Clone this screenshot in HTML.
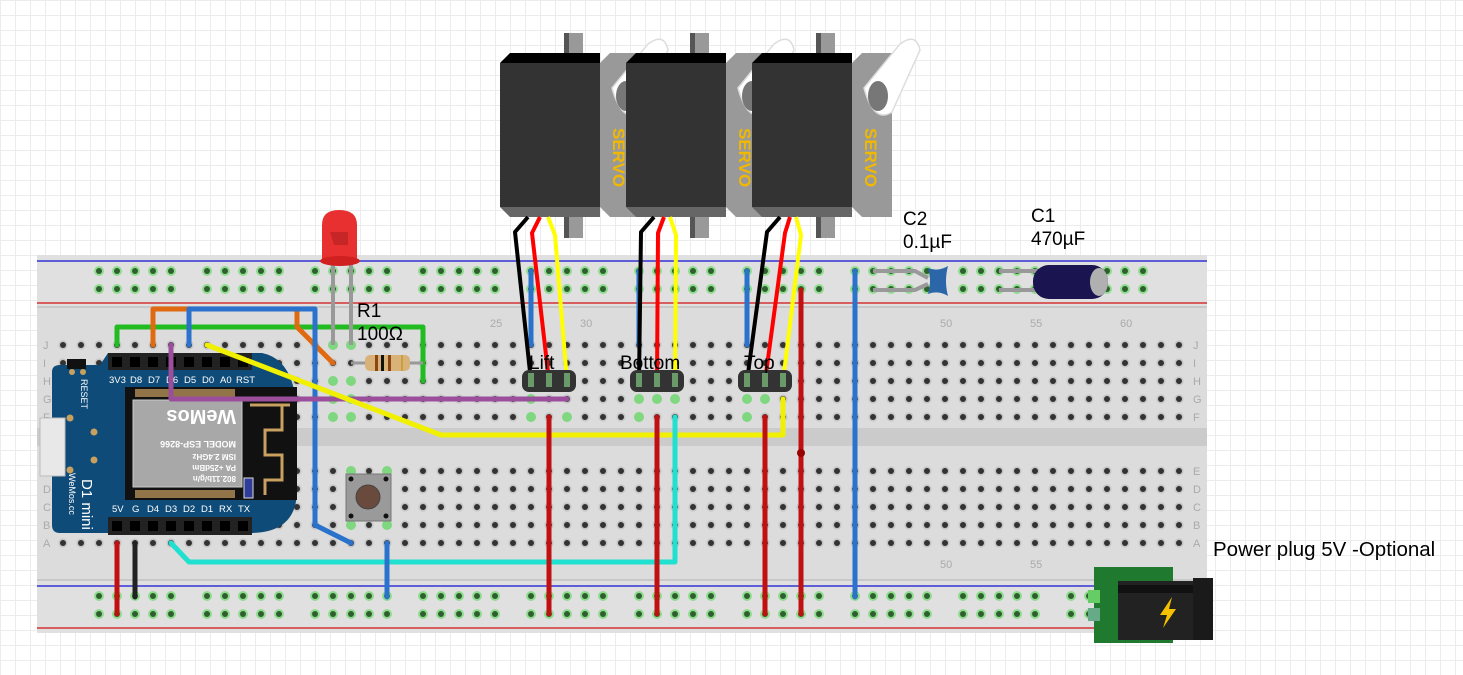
<!DOCTYPE html>
<html><head><meta charset="utf-8"><style>
html,body{margin:0;padding:0;width:1463px;height:675px;overflow:hidden;background:#fff;}
body{background-image:linear-gradient(#ececec 1px,transparent 1px),linear-gradient(90deg,#ececec 1px,transparent 1px);background-size:15px 15px;}
svg{position:absolute;left:0;top:0;font-family:"Liberation Sans",sans-serif;}
</style></head><body>
<svg width="1463" height="675" viewBox="0 0 1463 675">
<defs>
<pattern id="mh" x="54" y="336" width="18" height="18" patternUnits="userSpaceOnUse">
<circle cx="9" cy="9" r="4.6" fill="#c6c6c6"/><circle cx="9" cy="9" r="3" fill="#333"/>
</pattern>
<pattern id="rh" x="90" y="262" width="108" height="18" patternUnits="userSpaceOnUse">
<g fill="#8fdc8f"><circle cx="9" cy="9" r="5"/><circle cx="27" cy="9" r="5"/><circle cx="45" cy="9" r="5"/><circle cx="63" cy="9" r="5"/><circle cx="81" cy="9" r="5"/></g>
<g fill="#2f5f2f"><circle cx="9" cy="9" r="3"/><circle cx="27" cy="9" r="3"/><circle cx="45" cy="9" r="3"/><circle cx="63" cy="9" r="3"/><circle cx="81" cy="9" r="3"/></g>
</pattern>
<pattern id="rh2" x="90" y="587" width="108" height="18" patternUnits="userSpaceOnUse">
<g fill="#8fdc8f"><circle cx="9" cy="9" r="5"/><circle cx="27" cy="9" r="5"/><circle cx="45" cy="9" r="5"/><circle cx="63" cy="9" r="5"/><circle cx="81" cy="9" r="5"/></g>
<g fill="#2f5f2f"><circle cx="9" cy="9" r="3"/><circle cx="27" cy="9" r="3"/><circle cx="45" cy="9" r="3"/><circle cx="63" cy="9" r="3"/><circle cx="81" cy="9" r="3"/></g>
</pattern>
<g id="servo">
<rect x="564" y="33" width="19" height="205" fill="#999"/>
<rect x="564" y="33" width="5" height="205" fill="#555"/>
<polygon points="500,63 510,53 600,53 600,63" fill="#000"/>
<rect x="500" y="63" width="100" height="144" fill="#333"/>
<polygon points="500,207 600,207 600,217 510,217" fill="#666"/>
<polygon points="600,63 610,53 640,53 640,217 610,217 600,207" fill="#999"/>
<path d="M612 88 L648 44 Q664 32 668 50 L640 112 Q622 124 612 88 Z" fill="#fff" stroke="#ddd" stroke-width="1.5"/>
<ellipse cx="626" cy="96" rx="10" ry="15" fill="#777"/>
<text x="0" y="0" fill="#f0b800" font-size="17" font-weight="bold" transform="translate(613 128) rotate(90)">SERVO</text>
</g>
</defs>

<!-- breadboard -->
<rect x="37" y="255" width="1170" height="378" fill="#dcdcdc"/>
<rect x="37" y="255" width="1170" height="52" fill="#e0e0e0"/>
<rect x="37" y="579" width="1170" height="54" fill="#e0e0e0"/>
<line x1="37" y1="307" x2="1207" y2="307" stroke="#c8c8c8" stroke-width="2"/>
<line x1="37" y1="580" x2="1207" y2="580" stroke="#c8c8c8" stroke-width="2"/>
<rect x="37" y="428" width="1170" height="18" fill="#cbcbcb"/>
<line x1="37" y1="261" x2="1207" y2="261" stroke="#1010d0" stroke-width="1.3"/>
<line x1="37" y1="303" x2="1207" y2="303" stroke="#d01010" stroke-width="1.3"/>
<line x1="37" y1="586" x2="1207" y2="586" stroke="#1010d0" stroke-width="1.3"/>
<line x1="37" y1="628" x2="1207" y2="628" stroke="#d01010" stroke-width="1.3"/>
<rect x="54" y="336" width="1134" height="90" fill="url(#mh)"/>
<rect x="54" y="462" width="1134" height="90" fill="url(#mh)"/>
<rect x="90" y="262" width="1062" height="36" fill="url(#rh)"/>
<rect x="90" y="587" width="1062" height="36" fill="url(#rh2)"/>
<g fill="#aaa" font-size="11">
<text x="43" y="349">J</text><text x="43" y="367">I</text><text x="43" y="385">H</text><text x="43" y="403">G</text><text x="43" y="421">F</text>
<text x="43" y="475">E</text><text x="43" y="493">D</text><text x="43" y="511">C</text><text x="43" y="529">B</text><text x="43" y="547">A</text>
<text x="1193" y="349">J</text><text x="1193" y="367">I</text><text x="1193" y="385">H</text><text x="1193" y="403">G</text><text x="1193" y="421">F</text>
<text x="1193" y="475">E</text><text x="1193" y="493">D</text><text x="1193" y="511">C</text><text x="1193" y="529">B</text><text x="1193" y="547">A</text>
<text x="490" y="327">25</text><text x="580" y="327">30</text><text x="940" y="327">50</text><text x="1030" y="327">55</text><text x="1120" y="327">60</text>
<text x="940" y="568">50</text><text x="1030" y="568">55</text>
</g>

<!-- green highlighted holes -->
<g fill="#7fd77f">
<circle cx="333" cy="345" r="5"/><circle cx="351" cy="345" r="5"/><circle cx="333" cy="381" r="5"/><circle cx="351" cy="381" r="5"/><circle cx="333" cy="399" r="5"/><circle cx="351" cy="399" r="5"/><circle cx="333" cy="417" r="5"/><circle cx="351" cy="417" r="5"/>
<circle cx="531" cy="399" r="5"/><circle cx="531" cy="417" r="5"/><circle cx="567" cy="417" r="5"/>
<circle cx="639" cy="399" r="5"/><circle cx="657" cy="399" r="5"/><circle cx="675" cy="399" r="5"/><circle cx="639" cy="417" r="5"/>
<circle cx="747" cy="399" r="5"/><circle cx="765" cy="399" r="5"/><circle cx="747" cy="417" r="5"/>
<circle cx="351" cy="471" r="5"/><circle cx="387" cy="471" r="5"/><circle cx="351" cy="525" r="5"/><circle cx="387" cy="525" r="5"/>
</g>

<!-- Wemos D1 mini -->
<path d="M52 372 Q52 365 60 365 L100 365 L108 353 L262 353 Q297 360 297 420 L297 490 Q297 533 250 533 L60 533 Q52 533 52 525 Z" fill="#0e4b78"/>
<rect x="40" y="418" width="25" height="58" fill="#e8e8e8" stroke="#bbb"/>
<rect x="67" y="359" width="19" height="10" fill="#111"/>
<rect x="125" y="387" width="172" height="113" fill="#111"/>
<rect x="133" y="400" width="109" height="87" fill="#a8a8a8" stroke="#ccc"/>
<g stroke="#c8a060" stroke-width="3" fill="none"><path d="M250 405 H290 M282 405 V430 H265 V455 H282 V480 H265 V495"/></g>
<rect x="244" y="478" width="9" height="20" fill="#2f3c9a" stroke="#ddd"/>
<g fill="#c8a060"><rect x="135" y="389" width="100" height="8" opacity=".7"/><rect x="135" y="490" width="100" height="8" opacity=".7"/></g>
<g fill="#fff" font-weight="bold" transform="rotate(180 188 444)">
<text x="140" y="412" font-size="8">802.11b/g/n</text><text x="140" y="423" font-size="8">PA +25dBm</text><text x="140" y="434" font-size="8">ISM 2.4GHz</text><text x="140" y="447" font-size="9">MODEL ESP-8266</text><text x="140" y="478" font-size="20">WeMos</text></g>
<g fill="#fff" font-size="9.5">
<text x="109" y="383">3V3</text><text x="130" y="383">D8</text><text x="148" y="383">D7</text><text x="166" y="383">D6</text><text x="184" y="383">D5</text><text x="202" y="383">D0</text><text x="220" y="383">A0</text><text x="236" y="383">RST</text>
<text x="112" y="512">5V</text><text x="132" y="512">G</text><text x="147" y="512">D4</text><text x="165" y="512">D3</text><text x="183" y="512">D2</text><text x="201" y="512">D1</text><text x="219" y="512">RX</text><text x="238" y="512">TX</text></g>
<rect x="108" y="353" width="144" height="17" fill="#222"/>
<rect x="108" y="517" width="144" height="18" fill="#222"/>
<g fill="#000"><rect x="112" y="357" width="10" height="10"/><rect x="130" y="357" width="10" height="10"/><rect x="148" y="357" width="10" height="10"/><rect x="166" y="357" width="10" height="10"/><rect x="184" y="357" width="10" height="10"/><rect x="202" y="357" width="10" height="10"/><rect x="220" y="357" width="10" height="10"/><rect x="238" y="357" width="10" height="10"/>
<rect x="112" y="521" width="10" height="10"/><rect x="130" y="521" width="10" height="10"/><rect x="148" y="521" width="10" height="10"/><rect x="166" y="521" width="10" height="10"/><rect x="184" y="521" width="10" height="10"/><rect x="202" y="521" width="10" height="10"/><rect x="220" y="521" width="10" height="10"/><rect x="238" y="521" width="10" height="10"/></g>
<g fill="#c8a060"><circle cx="72" cy="372" r="3"/><circle cx="83" cy="372" r="3"/><circle cx="70" cy="418" r="3.5"/><circle cx="94" cy="432" r="3.5"/><circle cx="94" cy="460" r="3.5"/><circle cx="70" cy="470" r="3.5"/></g>
<text x="0" y="0" fill="#fff" font-size="9" transform="translate(81 379) rotate(90)">RESET</text>
<text x="0" y="0" fill="#fff" font-size="15" transform="translate(82 479) rotate(90)">D1 mini</text>
<text x="0" y="0" fill="#fff" font-size="9" transform="translate(69 473) rotate(90)">WeMos.cc</text>

<!-- pushbutton -->
<rect x="346" y="474" width="45" height="47" fill="#9a9a9a" stroke="#777"/>
<circle cx="368" cy="497" r="12" fill="#6b4a3e" stroke="#444"/>
<g fill="#111"><circle cx="351" cy="479" r="2.5"/><circle cx="386" cy="479" r="2.5"/><circle cx="351" cy="516" r="2.5"/><circle cx="386" cy="516" r="2.5"/></g>

<!-- wires -->
<g fill="none" stroke-linecap="round" stroke-linejoin="round" stroke-width="5">
<polyline points="117,345 117,327 423,327 423,381" stroke="#22bb22"/>
<polyline points="153,345 153,309 297,309 297,327 333,363" stroke="#e06a10"/>
<polyline points="189,345 189,309 315,309 315,525 351,543" stroke="#2a72cc"/>
<polyline points="171,345 171,399 567,399" stroke="#9b4e9b"/>
<polyline points="207,345 441,435 783,435 783,399" stroke="#f0f000"/>
<polyline points="171,543 189,562 675,562 675,417" stroke="#20e0d0"/>
<line x1="117" y1="543" x2="117" y2="614" stroke="#c01010"/>
<line x1="135" y1="543" x2="135" y2="597" stroke="#222"/>
<line x1="387" y1="543" x2="387" y2="597" stroke="#2a72cc"/>
<line x1="549" y1="417" x2="549" y2="614" stroke="#c01010"/>
<line x1="657" y1="417" x2="657" y2="614" stroke="#c01010"/>
<line x1="765" y1="417" x2="765" y2="614" stroke="#c01010"/>
<line x1="801" y1="290" x2="801" y2="614" stroke="#c01010"/>
<line x1="531" y1="271" x2="531" y2="345" stroke="#2a72cc"/>
<line x1="639" y1="271" x2="639" y2="345" stroke="#2a72cc"/>
<line x1="747" y1="271" x2="747" y2="345" stroke="#2a72cc"/>
<line x1="855" y1="271" x2="855" y2="597" stroke="#2a72cc"/>
</g>
<circle cx="801" cy="453" r="4" fill="#900"/>

<!-- LED -->
<g fill="none" stroke="#999" stroke-width="4"><polyline points="333,255 333,345"/><polyline points="345,255 351,265 351,345"/></g>
<path d="M322 262 L322 225 Q322 210 339 210 Q357 210 357 225 L357 262 Z" fill="#e83030"/>
<ellipse cx="340" cy="261" rx="20" ry="5" fill="#d02020"/>
<path d="M330 232 H348 V245 L334 245 Z" fill="#b02020" opacity=".6"/>

<!-- resistor -->
<line x1="351" y1="363" x2="423" y2="363" stroke="#999" stroke-width="3"/>
<rect x="365" y="355" width="45" height="16" rx="5" fill="#d9b27a"/>
<rect x="375" y="355" width="3" height="16" fill="#8b4513"/><rect x="381" y="355" width="3" height="16" fill="#111"/><rect x="388" y="355" width="3" height="16" fill="#8b4513"/><rect x="401" y="355" width="2" height="16" fill="#c8a040"/>

<!-- capacitors -->
<g fill="none" stroke="#999" stroke-width="4"><polyline points="873,271 915,271 928,278"/><polyline points="873,290 915,290 928,284"/><line x1="999" y1="271" x2="1040" y2="271"/><line x1="999" y1="290" x2="1040" y2="290"/></g>
<path d="M928 268 Q938 272 948 266 Q944 281 948 296 Q938 290 928 294 Q932 281 928 268 Z" fill="#2a66a8"/>
<rect x="1033" y="265" width="75" height="34" rx="16" fill="#1a1550"/>
<ellipse cx="1099" cy="282" rx="9" ry="14" fill="#b0b0b0"/>

<!-- servos -->
<use href="#servo"/>
<use href="#servo" transform="translate(126 0)"/>
<use href="#servo" transform="translate(252 0)"/>

<!-- servo wires -->
<g fill="none" stroke-width="4" stroke-linejoin="round">
<polyline points="528,217 515,232 531,381" stroke="#000"/><polyline points="540,217 532,233 549,381" stroke="#f00"/><polyline points="548,217 555,235 567,381" stroke="#ff0"/>
<polyline points="654,217 641,232 639,381" stroke="#000"/><polyline points="664,217 658,233 657,381" stroke="#f00"/><polyline points="670,217 676,235 675,381" stroke="#ff0"/>
<polyline points="780,217 767,232 747,381" stroke="#000"/><polyline points="790,217 785,233 765,381" stroke="#f00"/><polyline points="796,217 801,235 783,381" stroke="#ff0"/>
</g>
<!-- connectors -->
<g fill="#333"><rect x="522" y="370" width="54" height="22" rx="7"/><rect x="630" y="370" width="54" height="22" rx="7"/><rect x="738" y="370" width="54" height="22" rx="7"/></g>
<g fill="#6a9a6a"><rect x="528" y="373" width="6" height="14"/><rect x="546" y="373" width="6" height="14"/><rect x="564" y="373" width="6" height="14"/><rect x="636" y="373" width="6" height="14"/><rect x="654" y="373" width="6" height="14"/><rect x="672" y="373" width="6" height="14"/><rect x="744" y="373" width="6" height="14"/><rect x="762" y="373" width="6" height="14"/><rect x="780" y="373" width="6" height="14"/></g>

<!-- power plug -->
<rect x="1094" y="567" width="79" height="76" fill="#1f7a2f"/>
<rect x="1088" y="590" width="12" height="13" fill="#6c6"/><rect x="1088" y="608" width="12" height="13" fill="#6a8"/>
<rect x="1118" y="581" width="77" height="59" fill="#222"/>
<rect x="1118" y="585" width="77" height="8" fill="#111"/>
<rect x="1193" y="578" width="20" height="62" fill="#1a1a1a"/>
<path d="M1172 597 L1160 615 L1167 615 L1163 628 L1176 609 L1169 609 Z" fill="#f5c000"/>

<!-- labels -->
<g fill="#000" font-size="19">
<text x="357" y="317">R1</text><text x="357" y="340">100Ω</text>
<text x="529" y="369">Lift</text><text x="620" y="369">Bottom</text><text x="744" y="369">Top</text>
<text x="903" y="225">C2</text><text x="903" y="248">0.1µF</text>
<text x="1031" y="222">C1</text><text x="1031" y="245">470µF</text>
<text x="1213" y="556" font-size="20.5">Power plug 5V -Optional</text>
</g>
</svg>
</body></html>
